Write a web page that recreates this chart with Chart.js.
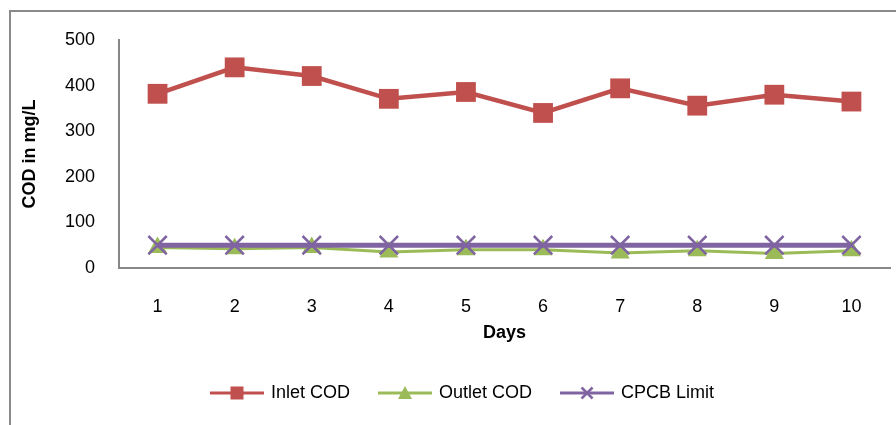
<!DOCTYPE html>
<html><head><meta charset="utf-8">
<script src="https://cdn.jsdelivr.net/npm/chart.js@4"></script>
<style>
html,body{margin:0;padding:0;background:#fff;overflow:hidden;}
#frame{position:absolute;left:9px;top:10px;width:1000px;height:600px;border:2px solid #8a8a8a;box-sizing:border-box;}
#wrap{position:absolute;left:0;top:0;width:896px;height:425px;}
</style></head>
<body>
<div id="frame"></div>
<div id="wrap"><canvas id="c" width="896" height="425"></canvas></div>
<script>
const days = ['1','2','3','4','5','6','7','8','9','10'];
const inletCOD = [382, 440, 421, 371, 386, 340, 394, 356, 380, 365];
const outletCOD = [45, 42, 45, 35, 40, 40, 33, 38, 32, 38];
const cpcbLimit = [50, 50, 50, 50, 50, 50, 50, 50, 50, 50];
const yTicks = [0, 100, 200, 300, 400, 500];

const RED = '#C0504D', GREEN = '#9BBB59', PURPLE = '#8064A2', AXIS = '#878787';
const FONT = "'Liberation Sans', Arial, sans-serif";

function legendIcon(color, kind) {
  const cv = document.createElement('canvas');
  cv.width = 54; cv.height = 20;
  const g = cv.getContext('2d');
  g.strokeStyle = color; g.fillStyle = color; g.lineWidth = 3;
  g.beginPath(); g.moveTo(0, 10); g.lineTo(54, 10); g.stroke();
  if (kind === 'rect') { g.fillRect(20.5, 3.5, 13, 13); }
  else if (kind === 'tri') { g.beginPath(); g.moveTo(27, 3); g.lineTo(34, 16); g.lineTo(20, 16); g.closePath(); g.fill(); }
  else { g.lineWidth = 2.5; g.beginPath(); g.moveTo(21.5, 4.5); g.lineTo(32.5, 15.5); g.moveTo(32.5, 4.5); g.lineTo(21.5, 15.5); g.stroke(); }
  return cv;
}
const icons = [legendIcon(RED, 'rect'), legendIcon(GREEN, 'tri'), legendIcon(PURPLE, 'x')];

new Chart(document.getElementById('c'), {
  type: 'line',
  data: {
    labels: days,
    datasets: [
      { label: 'Inlet COD', data: inletCOD, borderColor: RED, backgroundColor: RED, borderWidth: 4.5,
        pointStyle: 'rect', pointRadius: 14, pointBorderWidth: 0, pointBackgroundColor: RED, order: 0 },
      { label: 'Outlet COD', data: outletCOD, borderColor: GREEN, backgroundColor: GREEN, borderWidth: 3,
        pointStyle: 'triangle', pointRadius: 11, pointBorderWidth: 0, pointBackgroundColor: GREEN, order: 2 },
      { label: 'CPCB Limit', data: cpcbLimit, borderColor: PURPLE, backgroundColor: PURPLE, borderWidth: 5,
        pointStyle: 'crossRot', pointRadius: 13, pointBorderWidth: 2.5, pointBorderColor: PURPLE, order: 1 }
    ]
  },
  options: {
    responsive: false,
    animation: false,
    events: [],
    layout: { autoPadding: false, padding: { left: 36, right: 6, top: 40, bottom: 13 } },
    plugins: {
      tooltip: { enabled: false },
      legend: {
        position: 'bottom',
        labels: {
          usePointStyle: true,
          pointStyleWidth: 50,
          padding: 30,
          color: '#000',
          font: { family: FONT, size: 18 },
          generateLabels: (chart) => chart.data.datasets.map((ds, i) => ({
            text: ds.label, pointStyle: icons[i], fillStyle: ds.borderColor, strokeStyle: ds.borderColor,
            lineWidth: 0, hidden: false, datasetIndex: i, fontColor: '#000'
          }))
        }
      }
    },
    scales: {
      x: {
        type: 'category',
        offset: true,
        grid: { display: false, drawTicks: false },
        border: { display: true, color: AXIS, width: 2 },
        ticks: { color: '#000', font: { family: FONT, size: 18 }, padding: 28, maxRotation: 0 },
        title: { display: true, text: 'Days', color: '#000', font: { family: FONT, size: 18, weight: 'bold' }, padding: { top: 0, bottom: 10 } },
        afterFit: (s) => { s.height = 86; s.paddingRight = 0; s.paddingLeft = 0; }
      },
      y: {
        min: 0, max: 500,
        afterBuildTicks: (s) => { s.ticks = yTicks.map(v => ({ value: v })); },
        grid: { display: false, drawTicks: false },
        border: { display: true, color: AXIS, width: 2 },
        ticks: { color: '#000', font: { family: FONT, size: 18 }, padding: 24 },
        title: { display: true, text: 'COD in mg/L', color: '#000', font: { family: FONT, size: 18, weight: 'bold' }, padding: { top: -17, bottom: 0 } },
        afterFit: (s) => { s.width = 83; }
      }
    }
  }
});
</script>
</body></html>
